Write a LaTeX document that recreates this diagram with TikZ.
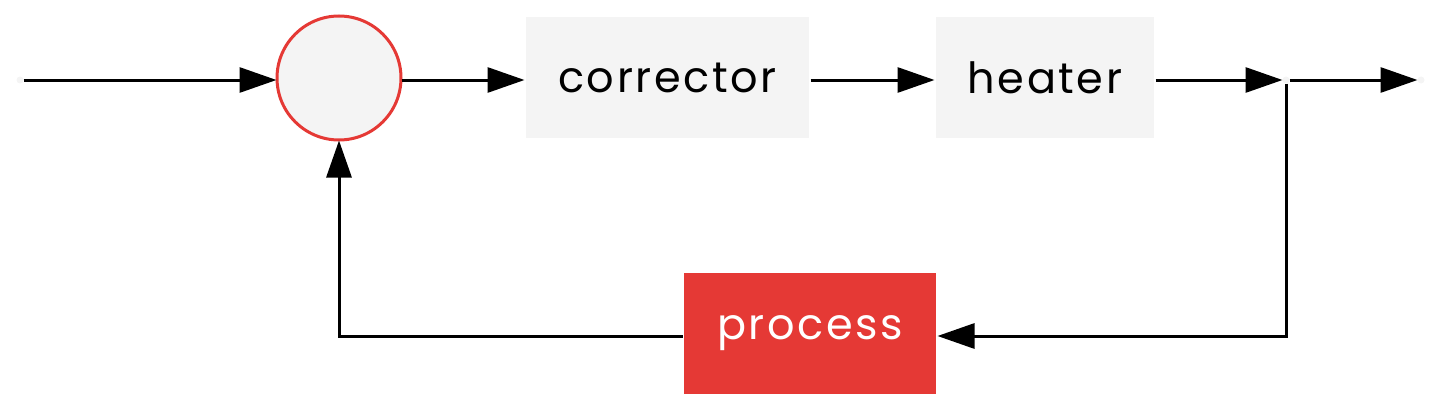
\documentclass[tikz,border=0pt]{standalone}
\usepackage{fontspec}
\setmainfont{Poppins}
\newfontfamily\labelfont[LetterSpace=6]{Poppins}
\usetikzlibrary{arrows.meta}
\definecolor{boxgrey}{HTML}{F4F4F4}
\definecolor{accent}{HTML}{E53935}
\begin{document}
\begin{tikzpicture}[x=1pt,y=-1pt,
  conn/.style={line width=3pt,-{Triangle[length=37pt,width=25pt]}},
  blockbox/.style={fill=boxgrey,minimum width=#1,minimum height=121pt,inner sep=0pt,outer sep=1.5pt,font=\labelfont\fontsize{43}{45}\selectfont},
  dotpt/.style={circle,fill=boxgrey,minimum size=7pt,inner sep=0pt,outer sep=0pt}]
\useasboundingbox (0,0) rectangle (1440,412);
\node[dotpt] (in) at (20,80) {};
\node[circle,fill=boxgrey,draw=accent,line width=3pt,minimum size=124pt,inner sep=0pt,outer sep=0.5pt] (sum) at (339,78) {};
\node[blockbox=283pt] (corr) at (667.5,77.5) {corrector};
\node[blockbox=218pt] (heat) at (1045,77.5) {heater};
\node[dotpt] (br) at (1286,80) {};
\node[dotpt] (out) at (1421,80) {};
\node[blockbox=252pt,fill=accent,text=white] (proc) at (810,333.5) {process};
\draw[conn] (in.east) -- (sum.west |- in.east);
\draw[conn] (sum.east |- in.east) -- (corr.west |- in.east);
\draw[conn] (corr.east |- in.east) -- (heat.west |- in.east);
\draw[conn] (heat.east |- in.east) -- (br.west);
\draw[conn] (br.east) -- (out.west);
\draw[conn] (br.south) |- (proc.east |- 0,336);
\draw[conn] (proc.west |- 0,336) -| (sum.south);
\end{tikzpicture}
\end{document}
